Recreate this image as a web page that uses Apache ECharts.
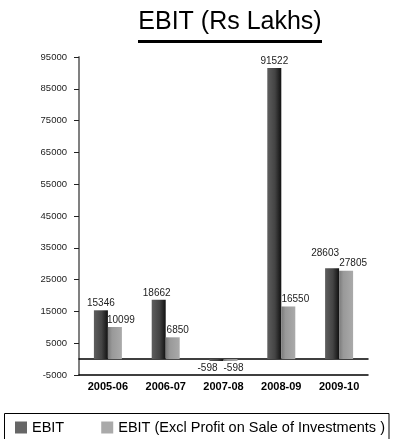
<!DOCTYPE html>
<html><head><meta charset="utf-8">
<script src="https://cdn.jsdelivr.net/npm/echarts@6/dist/echarts.min.js"></script>
<style>html,body{margin:0;padding:0;background:#fff}#c{width:393px;height:439px}</style>
</head><body><div id="c"></div>
<script>
var categories = ['2005-06','2006-07','2007-08','2008-09','2009-10'];
var ebit = [15346, 18662, -598, 91522, 28603];
var ebitExcl = [10099, 6850, -598, 16550, 27805];
var seriesNames = ['EBIT', 'EBIT (Excl Profit on Sale of Investments )'];
var titleText = 'EBIT (Rs Lakhs)';

// label nudges (style only, not data)
var ebitLabelNudge = [[0,0],[-2,0],[-9,0],[0,0],[-7,-8]];
var exclLabelNudge = [[6,0],[5,0],[3,0],[7,0],[7,0]];

var F = '"Liberation Sans",Arial,sans-serif';
function toData(arr, nudge){
  return arr.map(function(v, i){
    var lab = {offset: nudge[i]};
    if (v < 0) lab.position = 'bottom';
    return {value:v, label:lab};
  });
}
var darkGrad = new echarts.graphic.LinearGradient(0,0,1,0,[
  {offset:0,color:'#5e5e5e'},{offset:0.55,color:'#444'},{offset:1,color:'#111'}]);
var lightGrad = new echarts.graphic.LinearGradient(0,0,1,0,[
  {offset:0,color:'#7a7a7a'},{offset:0.3,color:'#999'},{offset:1,color:'#aaa'}]);
var chart = echarts.init(document.getElementById('c'), null, {renderer:'canvas'});
chart.setOption({
  animation:false,
  textStyle:{fontFamily:F},
  graphic:[
    {type:'text', x:230, y:22, style:{text:titleText, font:'25px '+F, fill:'#000', textAlign:'center', textVerticalAlign:'middle'}},
    {type:'rect', shape:{x:138, y:40, width:184, height:3}, style:{fill:'#000'}},
    {type:'rect', shape:{x:4.5, y:413.5, width:384.5, height:40}, style:{fill:'none', stroke:'#000', lineWidth:1}}
  ],
  legend:{
    left:15, top:420, itemWidth:12, itemHeight:12, itemGap:37, icon:'rect', padding:0,
    textStyle:{fontFamily:F, fontSize:14.5, color:'#000'},
    data:[{name:seriesNames[0], itemStyle:{color:'#666'}},{name:seriesNames[1], itemStyle:{color:'#aaa'}}]
  },
  grid:{left:79, right:25, top:57, bottom:64},
  xAxis:[
    {type:'category', data:categories, position:'bottom',
     axisLine:{onZero:false, lineStyle:{color:'#000', width:1.5}},
     axisTick:{inside:true, length:6, lineStyle:{color:'#000', width:1.5}},
     axisLabel:{interval:0, fontFamily:F, fontSize:11, fontWeight:'bold', color:'#000', margin:6}},
    {type:'category', data:categories, position:'bottom',
     axisLine:{onZero:true, lineStyle:{color:'#000', width:1.5}},
     axisTick:{inside:false, length:4, lineStyle:{color:'#000', width:1.5}},
     axisLabel:{show:false}}
  ],
  yAxis:{type:'value', min:-5000, max:95000, interval:10000,
    axisLine:{show:true, lineStyle:{color:'#808080', width:2}},
    axisTick:{show:true, length:5, lineStyle:{color:'#222'}},
    splitLine:{show:false},
    axisLabel:{fontFamily:F, fontSize:9.5, color:'#222', margin:12, formatter:function(v){return String(v);}}
  },
  series:[
    {name:seriesNames[0], type:'bar', xAxisIndex:0, data:toData(ebit, ebitLabelNudge), barWidth:14, barGap:'0%',
     itemStyle:{color:darkGrad},
     label:{show:true, position:'top', distance:2, fontFamily:F, fontSize:10, color:'#222', formatter:function(p){return String(p.value);}}},
    {name:seriesNames[1], type:'bar', xAxisIndex:0, data:toData(ebitExcl, exclLabelNudge), barWidth:14, barGap:'0%',
     itemStyle:{color:lightGrad},
     label:{show:true, position:'top', distance:2, fontFamily:F, fontSize:10, color:'#222', formatter:function(p){return String(p.value);}}}
  ]
});
</script></body></html>
